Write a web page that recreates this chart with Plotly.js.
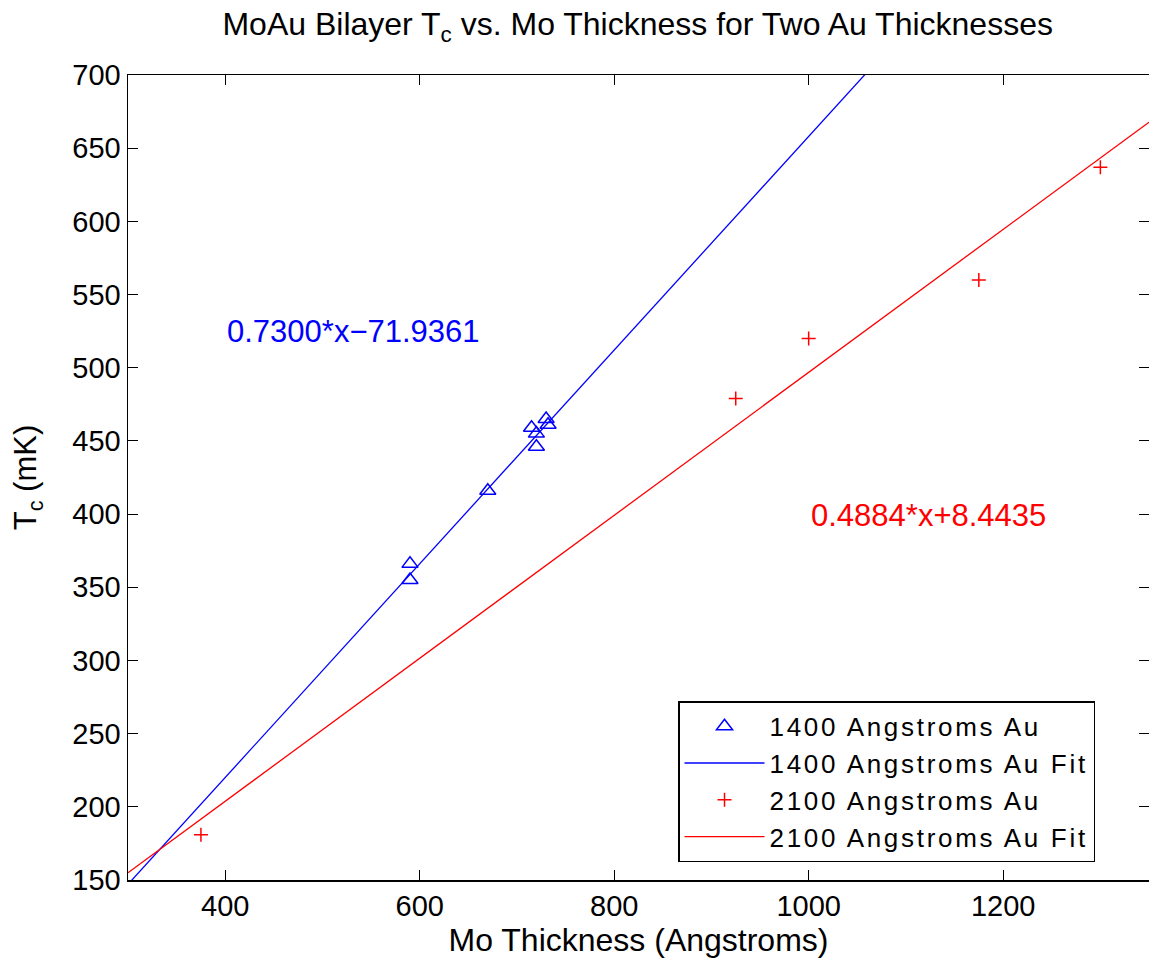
<!DOCTYPE html>
<html>
<head>
<meta charset="utf-8">
<script src="https://cdn.plot.ly/plotly-3.0.1.min.js"></script>
<style>
html,body{margin:0;padding:0;background:#fff;}
#chart{width:1149px;height:965px;}
.legendtext{letter-spacing:2.7px;}
</style>
</head>
<body>
<div id="chart"></div>
<script>
// Data
const au1400X = [590, 590, 670, 715, 720, 720, 730, 732];
const au1400Y = [366, 355, 416, 459, 455, 446, 465, 461];
const au1400FitX = [300, 1350];
const au1400FitY = [147.06, 913.56];
const au2100X = [375, 925, 1000, 1175, 1300];
const au2100Y = [181, 479, 520, 560, 637];
const au2100FitX = [300, 1350];
const au2100FitY = [154.96, 667.78];
const seriesNames = ["1400 Angstroms Au", "1400 Angstroms Au Fit", "2100 Angstroms Au", "2100 Angstroms Au Fit"];
const fitLabels = ["0.7300*x\u221271.9361", "0.4884*x+8.4435"];
const fitLabelX = [400, 1000];
const fitLabelY = [525, 399];
const xTicks = [400, 600, 800, 1000, 1200];
const yTicks = [150, 200, 250, 300, 350, 400, 450, 500, 550, 600, 650, 700];

const FONT = "Liberation Sans, Arial, Helvetica, sans-serif";

const traces = [
  {x: au1400X, y: au1400Y, name: seriesNames[0], type: "scatter", mode: "markers",
   marker: {symbol: "triangle-up-open", size: 14, color: "#0000ff", line: {width: 1.5, color: "#0000ff"}}},
  {x: au1400FitX, y: au1400FitY, name: seriesNames[1], type: "scatter", mode: "lines",
   line: {color: "#0000ff", width: 1.3}},
  {x: au2100X, y: au2100Y, name: seriesNames[2], type: "scatter", mode: "markers",
   marker: {symbol: "cross-thin-open", size: 10, color: "#ff0000", line: {width: 1.5, color: "#ff0000"}}},
  {x: au2100FitX, y: au2100FitY, name: seriesNames[3], type: "scatter", mode: "lines",
   line: {color: "#ff0000", width: 1.3}}
];

const axisCommon = {
  showgrid: false, zeroline: false, showline: true, mirror: "ticks",
  linecolor: "#000", linewidth: 1.5, ticks: "inside", ticklen: 10, tickwidth: 1, tickcolor: "#000",
  tickfont: {family: FONT, size: 29, color: "#000"}
};

const layout = {
  width: 1149, height: 965,
  margin: {l: 128, r: 0, t: 75, b: 85},
  paper_bgcolor: "#fff", plot_bgcolor: "#fff",
  font: {family: FONT, color: "#000"},
  title: {text: "MoAu Bilayer T<sub>c</sub> vs. Mo Thickness for Two Au Thicknesses",
          font: {family: FONT, size: 32, color: "#000"}, x: 0.555, xanchor: "center", y: 0.975, yanchor: "middle"},
  xaxis: Object.assign({}, axisCommon, {range: [300, 1350], tickvals: xTicks, ticktext: xTicks.map(String),
    title: {text: "Mo Thickness (Angstroms)", font: {family: FONT, size: 32, color: "#000"}, standoff: 6}}),
  yaxis: Object.assign({}, axisCommon, {range: [150, 700], tickvals: yTicks, ticktext: yTicks.map(String),
    title: {text: "T<sub>c</sub> (mK)", font: {family: FONT, size: 31, color: "#000"}, standoff: 26}}),
  showlegend: true,
  legend: {x: 0.5387, xanchor: "left", y: 0.222, yanchor: "top", bgcolor: "#fff",
           bordercolor: "#000", borderwidth: 1.5, font: {family: FONT, size: 26, color: "#000"},
           itemwidth: 80, tracegroupgap: 0},
  annotations: [
    {x: fitLabelX[0], y: fitLabelY[0], xref: "x", yref: "y", text: fitLabels[0], showarrow: false,
     xanchor: "left", yanchor: "middle", font: {family: FONT, size: 31, color: "#0000ff"}},
    {x: fitLabelX[1], y: fitLabelY[1], xref: "x", yref: "y", text: fitLabels[1], showarrow: false,
     xanchor: "left", yanchor: "middle", font: {family: FONT, size: 31, color: "#ff0000"}}
  ]
};

Plotly.newPlot("chart", traces, layout, {displayModeBar: false, staticPlot: true});
</script>
</body>
</html>
